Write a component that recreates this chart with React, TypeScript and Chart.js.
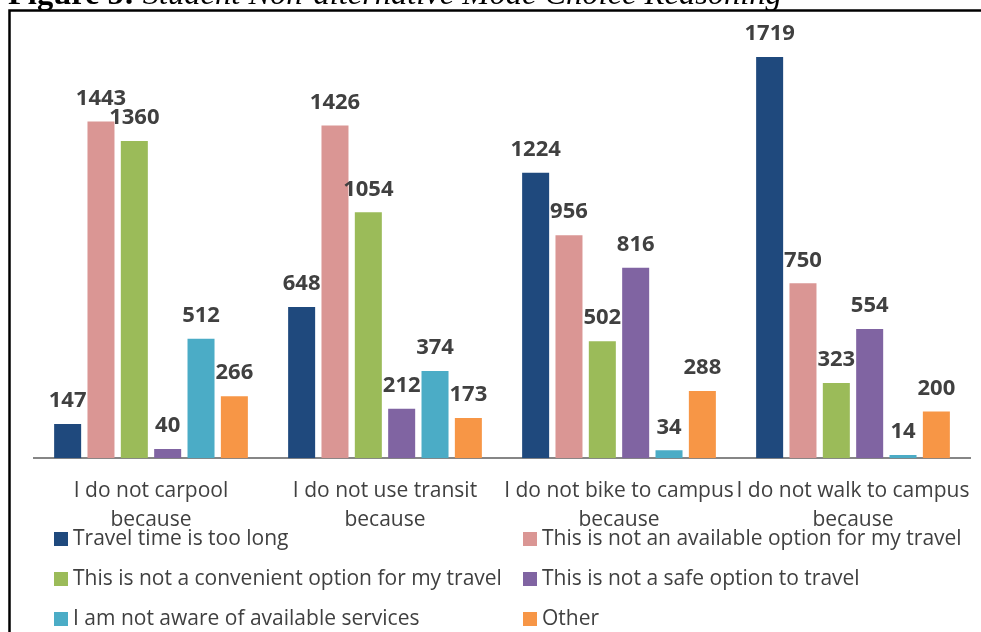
import React, { useEffect, useRef } from "react";
import { Chart, registerables } from "chart.js";

Chart.register(...registerables);

const categories: string[][] = [
  ["I do not carpool", "because"],
  ["I do not use transit", "because"],
  ["I do not bike to campus", "because"],
  ["I do not walk to campus", "because"],
];

const seriesNames = [
  "Travel time is too long",
  "This is not an available option for my travel",
  "This is not a convenient option for my travel",
  "This is not a safe option to travel",
  "I am not aware of available services",
  "Other",
];

const travelTimeTooLong = [147, 648, 1224, 1719];
const notAvailable = [1443, 1426, 956, 750];
const notConvenient = [1360, 1054, 502, 323];
const notSafe = [40, 212, 816, 554];
const notAware = [512, 374, 34, 14];
const other = [266, 173, 288, 200];

const seriesValues = [travelTimeTooLong, notAvailable, notConvenient, notSafe, notAware, other];
const seriesColors = ["#1F497D", "#DA9694", "#9BBB59", "#8064A2", "#4BACC6", "#F79646"];

const titleBold = "Figure 5:";
const titleItalic = " Student Non-alternative Mode Choice Reasoning";

const TEXT = "#404040";
const FONT = "'Open Sans', 'Noto Sans', sans-serif";

const valueLabels = {
  id: "valueLabels",
  afterDatasetsDraw(chart: any) {
    const ctx = chart.ctx;
    ctx.save();
    ctx.font = `bold 22px ${FONT}`;
    ctx.fillStyle = TEXT;
    ctx.textAlign = "center";
    ctx.textBaseline = "middle";
    chart.data.datasets.forEach((ds: any, i: number) => {
      const meta = chart.getDatasetMeta(i);
      meta.data.forEach((bar: any, j: number) => {
        ctx.fillText(String(ds.data[j]), bar.x, bar.y - 23);
      });
    });
    ctx.restore();
  },
};

const frameAndTitle = {
  id: "frameAndTitle",
  afterDraw(chart: any) {
    const ctx = chart.ctx;
    ctx.save();
    ctx.strokeStyle = "#000";
    ctx.lineWidth = 2.5;
    ctx.beginPath();
    ctx.moveTo(9.5, 632);
    ctx.lineTo(9.5, 10.5);
    ctx.lineTo(981, 10.5);
    ctx.stroke();
    const size = 32.5;
    ctx.fillStyle = "#000";
    ctx.textBaseline = "alphabetic";
    ctx.textAlign = "left";
    ctx.font = `bold ${size}px 'Liberation Serif', serif`;
    ctx.fillText(titleBold, 8, 4);
    const w = ctx.measureText(titleBold).width;
    ctx.font = `italic ${size}px 'Liberation Serif', serif`;
    ctx.fillText(titleItalic, 8 + w, 4);
    ctx.restore();
  },
};

const customLegend = {
  id: "customLegend",
  afterDraw(chart: any) {
    const ctx = chart.ctx;
    ctx.save();
    ctx.font = `21px ${FONT}`;
    ctx.textBaseline = "middle";
    ctx.textAlign = "left";
    const colX = [54, 523];
    const rowY = [539, 579, 619];
    chart.data.datasets.forEach((ds: any, i: number) => {
      const x = colX[i % 2];
      const y = rowY[Math.floor(i / 2)];
      ctx.fillStyle = ds.backgroundColor;
      ctx.fillRect(x, y - 7, 14, 14);
      ctx.fillStyle = TEXT;
      ctx.fillText(ds.label, x + 19, y);
    });
    ctx.restore();
  },
};

export default function App() {
  const ref = useRef<HTMLCanvasElement>(null);
  useEffect(() => {
    if (!ref.current) return;
    const chart = new Chart(ref.current, {
      type: "bar",
      data: {
        labels: categories,
        datasets: seriesNames.map((name, i) => ({
          label: name,
          data: seriesValues[i],
          backgroundColor: seriesColors[i],
          categoryPercentage: 0.855,
          barPercentage: 0.81,
        })),
      },
      options: {
        animation: false,
        responsive: false,
        layout: { padding: { left: 34, right: 11, top: 20, bottom: 79 } },
        plugins: {
          legend: { display: false },
          tooltip: { enabled: false },
          title: { display: false },
        },
        scales: {
          x: {
            grid: { display: false, drawTicks: false },
            border: { display: true, color: "#868686", width: 2 },
            ticks: {
              color: TEXT,
              font: { family: FONT, size: 21, lineHeight: 1.35 },
              padding: 19,
              maxRotation: 0,
              autoSkip: false,
            },
            afterFit(scale: any) {
              scale.paddingLeft = 0;
              scale.paddingRight = 0;
            },
          },
          y: {
            display: false,
            min: 0,
            max: 1878,
          },
        },
      },
      plugins: [valueLabels, frameAndTitle, customLegend],
    });
    return () => chart.destroy();
  }, []);
  return (
    <div style={{ position: "absolute", left: 0, top: 0, width: 981, height: 632, background: "#fff" }}>
      <canvas ref={ref} width={981} height={632} />
    </div>
  );
}
